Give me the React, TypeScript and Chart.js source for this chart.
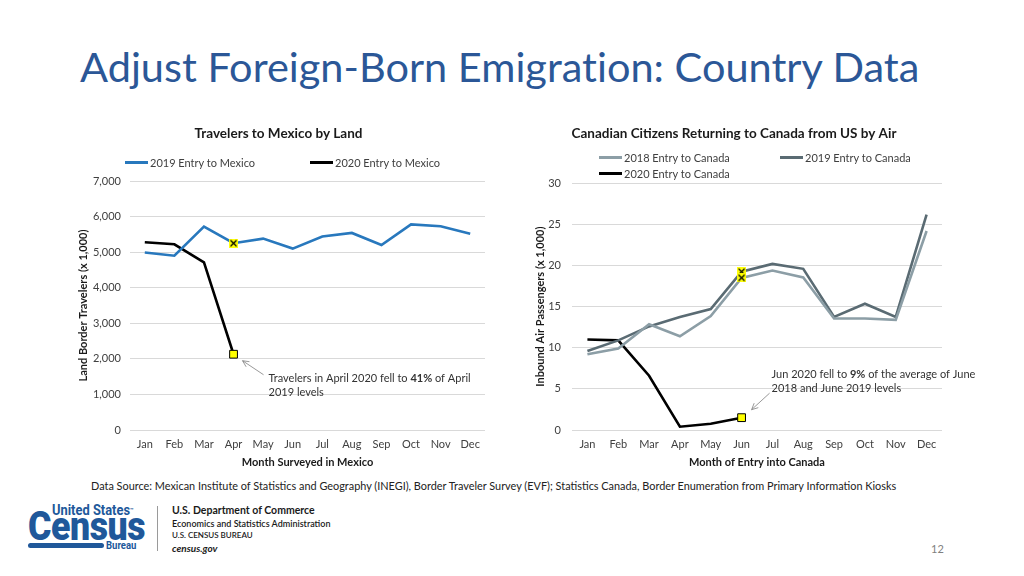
import React, { useEffect, useRef } from "react";
import { Chart, registerables } from "chart.js";

Chart.register(...registerables);

// ---------------- DATA ----------------
const MONTHS = ["Jan", "Feb", "Mar", "Apr", "May", "Jun", "Jul", "Aug", "Sep", "Oct", "Nov", "Dec"];

const MEXICO_2019 = [4990, 4900, 5720, 5250, 5380, 5100, 5440, 5540, 5200, 5780, 5730, 5520];
const MEXICO_2020 = [5280, 5220, 4710, 2130, null, null, null, null, null, null, null, null];
const MEXICO_TICK_MIN = 0;
const MEXICO_TICK_MAX = 7000;
const MEXICO_TICK_STEP = 1000;
const MEXICO_HIGHLIGHT = 3; // Apr

const CANADA_2018 = [9.2, 9.9, 12.85, 11.4, 13.85, 18.5, 19.4, 18.55, 13.55, 13.55, 13.4, 24.2];
const CANADA_2019 = [9.6, 10.9, 12.6, 13.75, 14.7, 19.25, 20.2, 19.6, 13.75, 15.35, 13.75, 26.2];
const CANADA_2020 = [11.0, 10.9, 6.6, 0.4, 0.75, 1.5, null, null, null, null, null, null];
const CANADA_TICK_MIN = 0;
const CANADA_TICK_MAX = 30;
const CANADA_TICK_STEP = 5;
const CANADA_HIGHLIGHT = 5; // Jun

const MEXICO_LABELS = ["2019 Entry to Mexico", "2020 Entry to Mexico"];
const CANADA_LABELS = ["2018 Entry to Canada", "2019 Entry to Canada", "2020 Entry to Canada"];

// ---------------- STYLE ----------------
const FONT = "Lato, 'Noto Sans', sans-serif";
const BLUE = "#2878BD";
const C2018 = "#8C9EA6";
const C2019 = "#5A6B73";
const BLACK = "#000000";
const GRID = "#D9D9D9";
const TICK = "#404040";

function makeXMarker(): HTMLCanvasElement {
  const c = document.createElement("canvas");
  c.width = 9;
  c.height = 9;
  const g = c.getContext("2d")!;
  g.fillStyle = "rgba(255,255,0,0.95)";
  g.fillRect(0, 0, 9, 9);
  g.strokeStyle = "#000";
  g.lineWidth = 1.2;
  g.beginPath();
  g.moveTo(1.5, 1.5);
  g.lineTo(7.5, 7.5);
  g.moveTo(7.5, 1.5);
  g.lineTo(1.5, 7.5);
  g.stroke();
  return c;
}

type Seg = { text: string; bold?: boolean };

const calloutPlugin = {
  id: "callout",
  afterDatasetsDraw(chart: any, _args: any, opts: any) {
    if (!opts || !opts.lines) return;
    const meta = chart.getDatasetMeta(opts.datasetIndex);
    const pt = meta.data[opts.index];
    if (!pt) return;
    const { x, y } = pt;
    const ctx: CanvasRenderingContext2D = chart.ctx;
    ctx.save();
    // arrow
    const hx = x + opts.head[0];
    const hy = y + opts.head[1];
    const tx = x + opts.tail[0];
    const ty = y + opts.tail[1];
    ctx.strokeStyle = "#7F7F7F";
    ctx.lineWidth = 0.8;
    ctx.beginPath();
    ctx.moveTo(tx, ty);
    ctx.lineTo(hx, hy);
    const ang = Math.atan2(hy - ty, hx - tx);
    const L = 7;
    ctx.moveTo(hx - L * Math.cos(ang - 0.45), hy - L * Math.sin(ang - 0.45));
    ctx.lineTo(hx, hy);
    ctx.lineTo(hx - L * Math.cos(ang + 0.45), hy - L * Math.sin(ang + 0.45));
    ctx.stroke();
    // text
    ctx.fillStyle = "#333333";
    ctx.textBaseline = "middle";
    ctx.textAlign = "left";
    (opts.lines as Seg[][]).forEach((line, i) => {
      let cx = x + opts.text[0];
      const cy = y + opts.text[1] + i * opts.lineGap;
      line.forEach((s) => {
        ctx.font = `${s.bold ? "bold " : ""}11px ${FONT}`;
        ctx.fillText(s.text, cx, cy);
        cx += ctx.measureText(s.text).width;
      });
    });
    ctx.restore();
  },
};

function baseOptions(p: {
  title: string;
  xTitle: string;
  yTitle: string;
  min: number;
  max: number;
  step: number;
  yWidth: number;
  yTitlePad: number;
  yTickPad: number;
  titleBottom: number;
  rightPad: number;
  callout: any;
}) {
  return {
    animation: false,
    responsive: false,
    maintainAspectRatio: false,
    layout: { padding: { left: 0, right: p.rightPad, top: 0, bottom: 0 } },
    elements: { line: { tension: 0, borderWidth: 2.6 } },
    plugins: {
      legend: { display: false },
      tooltip: { enabled: false },
      title: {
        display: true,
        text: p.title,
        color: "#1A1A1A",
        font: { family: FONT, size: 13.5, weight: "bold" },
        padding: { top: 5.9, bottom: p.titleBottom },
      },
      callout: p.callout,
    },
    scales: {
      x: {
        offset: true,
        grid: { display: false, drawTicks: false },
        border: { display: false },
        ticks: {
          color: TICK,
          font: { family: FONT, size: 11 },
          padding: 8,
          maxRotation: 0,
          autoSkip: false,
        },
        title: {
          display: true,
          text: p.xTitle,
          color: "#1A1A1A",
          font: { family: FONT, size: 11, weight: "bold" },
          padding: { top: 0, bottom: 6.4 },
        },
        afterFit: (s: any) => {
          s.height = 45;
        },
      },
      y: {
        min: p.min,
        max: p.max,
        grid: { color: GRID, drawTicks: false, lineWidth: 1 },
        border: { display: false },
        ticks: {
          stepSize: p.step,
          color: TICK,
          font: { family: FONT, size: 11 },
          padding: p.yTickPad,
          callback: (v: any) => Number(v).toLocaleString("en-US"),
        },
        title: {
          display: true,
          text: p.yTitle,
          color: "#1A1A1A",
          font: { family: FONT, size: 11, weight: "bold" },
          padding: { top: p.yTitlePad, bottom: 0 },
        },
        afterFit: (s: any) => {
          s.width = p.yWidth;
        },
      },
    },
  };
}

function ChartCanvas({ build, left, top, width, height }: any) {
  const ref = useRef<HTMLCanvasElement>(null);
  useEffect(() => {
    const chart = new Chart(ref.current!, build());
    return () => chart.destroy();
  }, []);
  return (
    <canvas
      ref={ref}
      width={width}
      height={height}
      style={{ position: "absolute", left, top, width, height }}
    />
  );
}

function Legend({ items, left, top, colWidth }: any) {
  return (
    <div
      style={{
        position: "absolute",
        left,
        top,
        display: "grid",
        gridTemplateColumns: `${colWidth}px ${colWidth}px`,
        rowGap: 1.5,
        font: `11px ${FONT}`,
        color: "#404040",
      }}
    >
      {items.map((it: any) => (
        <div key={it.label} style={{ display: "flex", alignItems: "center", height: 14, whiteSpace: "nowrap" }}>
          <span style={{ width: 23, height: 0, borderTop: `3px solid ${it.color}`, marginRight: 2 }} />
          {it.label}
        </div>
      ))}
    </div>
  );
}

function buildMexico() {
  const xm = makeXMarker();
  return {
    type: "line",
    data: {
      labels: MONTHS,
      datasets: [
        {
          label: MEXICO_LABELS[0],
          data: MEXICO_2019,
          borderColor: BLUE,
          backgroundColor: BLUE,
          pointStyle: xm,
          pointRadius: (c: any) => (c.dataIndex === MEXICO_HIGHLIGHT ? 5 : 0),
        },
        {
          label: MEXICO_LABELS[1],
          data: MEXICO_2020,
          borderColor: BLACK,
          backgroundColor: "#FFFF00",
          pointStyle: "rect",
          pointBorderColor: "#000",
          pointBorderWidth: 1,
          pointRadius: (c: any) => (c.dataIndex === MEXICO_HIGHLIGHT ? 5.5 : 0),
        },
      ],
    },
    options: baseOptions({
      title: "Travelers to Mexico by Land",
      xTitle: "Month Surveyed in Mexico",
      yTitle: "Land Border Travelers (x 1,000)",
      min: MEXICO_TICK_MIN,
      max: MEXICO_TICK_MAX,
      step: MEXICO_TICK_STEP,
      yWidth: 58,
      yTitlePad: 4.4,
      yTickPad: 9,
      titleBottom: 38.9,
      rightPad: 7,
      callout: {
        datasetIndex: 1,
        index: MEXICO_HIGHLIGHT,
        head: [9, 6.5],
        tail: [30, 20.5],
        text: [35, 24],
        lineGap: 14.5,
        lines: [
          [{ text: "Travelers in April 2020 fell to " }, { text: "41%", bold: true }, { text: " of April" }],
          [{ text: "2019 levels" }],
        ],
      },
    }),
    plugins: [calloutPlugin],
  };
}

function buildCanada() {
  const xm = makeXMarker();
  return {
    type: "line",
    data: {
      labels: MONTHS,
      datasets: [
        {
          label: CANADA_LABELS[0],
          data: CANADA_2018,
          borderColor: C2018,
          backgroundColor: C2018,
          pointStyle: xm,
          pointRadius: (c: any) => (c.dataIndex === CANADA_HIGHLIGHT ? 5 : 0),
        },
        {
          label: CANADA_LABELS[1],
          data: CANADA_2019,
          borderColor: C2019,
          backgroundColor: C2019,
          pointStyle: xm,
          pointRadius: (c: any) => (c.dataIndex === CANADA_HIGHLIGHT ? 5 : 0),
        },
        {
          label: CANADA_LABELS[2],
          data: CANADA_2020,
          borderColor: BLACK,
          backgroundColor: "#FFFF00",
          pointStyle: "rect",
          pointBorderColor: "#000",
          pointBorderWidth: 1,
          pointRadius: (c: any) => (c.dataIndex === CANADA_HIGHLIGHT ? 5.5 : 0),
        },
      ],
    },
    options: baseOptions({
      title: "Canadian Citizens Returning to Canada from US by Air",
      xTitle: "Month of Entry into Canada",
      yTitle: "Inbound Air Passengers (x 1,000)",
      min: CANADA_TICK_MIN,
      max: CANADA_TICK_MAX,
      step: CANADA_TICK_STEP,
      yWidth: 46,
      yTitlePad: 7.4,
      yTickPad: 11,
      titleBottom: 41.2,
      rightPad: 34,
      callout: {
        datasetIndex: 2,
        index: CANADA_HIGHLIGHT,
        head: [10, -8],
        tail: [28, -24.5],
        text: [30, -43.5],
        lineGap: 14.5,
        lines: [
          [{ text: "Jun 2020 fell to " }, { text: "9%", bold: true }, { text: " of the average of June" }],
          [{ text: "2018 and June 2019 levels" }],
        ],
      },
    }),
    plugins: [calloutPlugin],
  };
}

const LOGO_BLUE = "#20589A";

function Logo() {
  return (
    <div style={{ position: "absolute", left: 0, top: 0 }}>
      <div
        style={{
          position: "absolute",
          left: 52,
          top: 503,
          font: `bold 14px 'Roboto', ${FONT}`,
          color: LOGO_BLUE,
          whiteSpace: "nowrap",
          transform: "scaleX(0.92)",
          transformOrigin: "left top",
          lineHeight: "14px",
        }}
      >
        United States<span style={{ fontSize: 6, verticalAlign: "top" }}>™</span>
      </div>
      <div
        style={{
          position: "absolute",
          left: 28,
          top: 506,
          font: `900 41px 'Roboto', ${FONT}`,
          color: LOGO_BLUE,
          whiteSpace: "nowrap",
          transform: "scaleX(0.87)",
          transformOrigin: "left top",
          lineHeight: "41px",
          letterSpacing: -0.5,
        }}
      >
        Census
      </div>
      <div
        style={{
          position: "absolute",
          left: 28,
          top: 543,
          width: 76,
          height: 5,
          borderRadius: 3,
          background: LOGO_BLUE,
        }}
      />
      <div
        style={{
          position: "absolute",
          left: 106,
          top: 540,
          font: `bold 10px 'Roboto', ${FONT}`,
          color: LOGO_BLUE,
          lineHeight: "11px",
          transform: "scaleX(0.95)",
          transformOrigin: "left top",
        }}
      >
        Bureau
      </div>
      <div style={{ position: "absolute", left: 157, top: 506, width: 1, height: 45, background: "#9A9A9A" }} />
      <div style={{ position: "absolute", left: 172, top: 504, font: `bold 10.5px ${FONT}`, color: "#1A1A1A", whiteSpace: "nowrap", lineHeight: "12px" }}>
        U.S. Department of Commerce
      </div>
      <div style={{ position: "absolute", left: 172, top: 518, font: `600 9px ${FONT}`, color: "#1A1A1A", whiteSpace: "nowrap", lineHeight: "11px" }}>
        Economics and Statistics Administration
      </div>
      <div style={{ position: "absolute", left: 172, top: 530, font: `600 8px ${FONT}`, color: "#1A1A1A", whiteSpace: "nowrap", lineHeight: "10px" }}>
        U.S. CENSUS BUREAU
      </div>
      <div style={{ position: "absolute", left: 172, top: 542, font: `italic bold 10px ${FONT}`, color: "#1A1A1A", whiteSpace: "nowrap", lineHeight: "12px" }}>
        census.gov
      </div>
    </div>
  );
}

export default function App() {
  return (
    <div
      style={{
        position: "fixed",
        left: 0,
        top: 0,
        width: 1024,
        height: 576,
        background: "#fff",
        overflow: "hidden",
        fontFamily: FONT,
      }}
    >
      <div
        style={{
          position: "absolute",
          left: 80,
          top: 45,
          font: `41.5px ${FONT}`,
          lineHeight: "42px",
          color: "#2B5797",
          whiteSpace: "nowrap",
          fontVariantLigatures: "none",
        }}
      >
        Adjust Foreign-Born Emigration: Country Data
      </div>

      <ChartCanvas build={buildMexico} left={72} top={120} width={420} height={355} />
      <ChartCanvas build={buildCanada} left={526} top={120} width={450} height={355} />

      <Legend
        left={125}
        top={155}
        colWidth={185}
        items={[
          { label: MEXICO_LABELS[0], color: BLUE },
          { label: MEXICO_LABELS[1], color: BLACK },
        ]}
      />
      <Legend
        left={599}
        top={150.5}
        colWidth={181}
        items={[
          { label: CANADA_LABELS[0], color: C2018 },
          { label: CANADA_LABELS[1], color: C2019 },
          { label: CANADA_LABELS[2], color: BLACK },
        ]}
      />

      <div
        style={{
          position: "absolute",
          left: 91,
          top: 479,
          font: `10.9px ${FONT}`,
          color: "#222",
          whiteSpace: "nowrap",
          lineHeight: "13px",
        }}
      >
        Data Source: Mexican Institute of Statistics and Geography (INEGI), Border Traveler Survey (EVF); Statistics Canada, Border Enumeration from Primary Information Kiosks
      </div>

      <Logo />

      <div style={{ position: "absolute", left: 931, top: 543, font: `11px ${FONT}`, color: "#7F7F7F", lineHeight: "12px" }}>12</div>
    </div>
  );
}
